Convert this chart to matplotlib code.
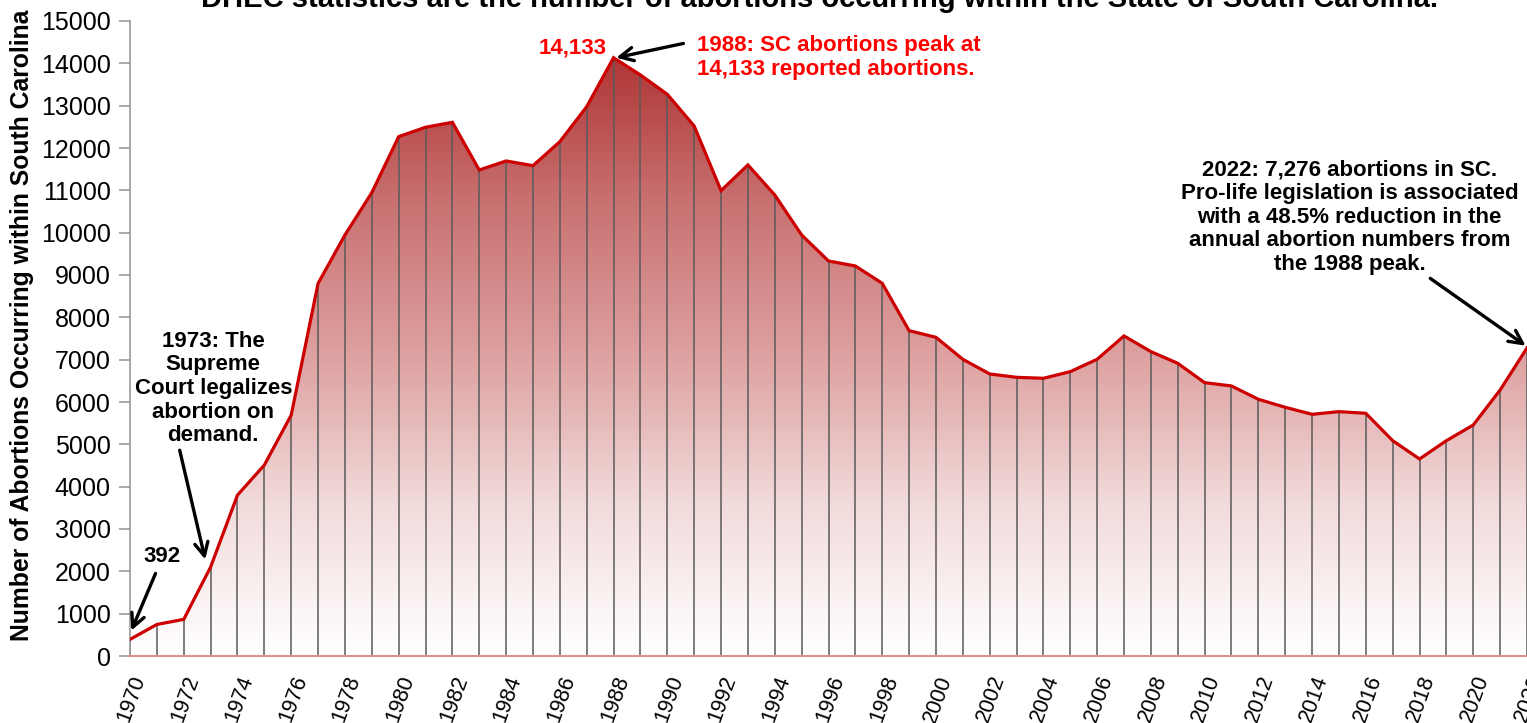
import numpy as np
import matplotlib
matplotlib.use("Agg")
import matplotlib.pyplot as plt
from matplotlib.colors import LinearSegmentedColormap
from matplotlib.patches import Polygon

years = list(range(1970, 2023))
abortions = [392, 745, 865, 2100, 3800, 4510, 5690, 8800, 9945, 10945,
             12268, 12490, 12607, 11480, 11694, 11583, 12150, 12977, 14133, 13725,
             13268, 12520, 10992, 11600, 10890, 9945, 9331, 9213, 8804, 7685,
             7528, 7009, 6662, 6583, 6560, 6717, 7009, 7560, 7190, 6914,
             6457, 6379, 6064, 5875, 5709, 5772, 5733, 5087, 4654, 5087,
             5457, 6284, 7276]
tick_years = list(range(1970, 2023, 2))
y_ticks = list(range(0, 15001, 1000))

plt.rcParams['font.family'] = ['Liberation Sans', 'DejaVu Sans']

fig = plt.figure(figsize=(15.27, 7.23), dpi=100)
ax = fig.add_axes([130/1527, 1-656/723, 1-130/1527, (656-21)/723])

x = np.array(years, dtype=float)
y = np.array(abortions, dtype=float)

cmap = LinearSegmentedColormap.from_list('g', [
    (0.0, (1.0, 1.0, 1.0)),
    (0.25, (0.95, 0.86, 0.86)),
    (0.5, (0.87, 0.63, 0.63)),
    (0.75, (0.79, 0.45, 0.45)),
    (1.0, (0.69, 0.21, 0.21))])
grad = np.linspace(0, 1, 256).reshape(-1, 1)
ymax = y.max()
im = ax.imshow(grad, cmap=cmap, aspect='auto', origin='lower',
               extent=[x[0], x[-1], 0, ymax], zorder=1)
verts = np.column_stack([np.r_[x[0], x, x[-1]], np.r_[0, y, 0]])
poly = Polygon(verts, closed=True, facecolor='none', edgecolor='none')
ax.add_patch(poly)
im.set_clip_path(poly)

ax.vlines(x, 0, y, color='#5a5a5a', lw=1.1, zorder=2)
ax.plot(x, y, color='#cc0000', lw=2.3, zorder=3, solid_joinstyle='miter')

ax.set_xlim(1970, 2022)
ax.set_ylim(0, 15000)
ax.set_yticks(y_ticks)
ax.set_xticks(tick_years)
ax.set_xticklabels([str(t) for t in tick_years], rotation=70, ha='right',
                   va='top', rotation_mode='anchor', fontsize=15.5)
ax.tick_params(axis='x', length=0, pad=12)
ax.tick_params(axis='y', length=8, width=1.2, color='#999999', labelsize=18, pad=6)
for s in ['top', 'right']:
    ax.spines[s].set_visible(False)
ax.spines['left'].set_color('#999999')
ax.spines['left'].set_linewidth(1.2)
ax.spines['bottom'].set_color('#e09090')
ax.spines['bottom'].set_linewidth(1.5)
ax.spines['bottom'].set_zorder(4)

fig.text(22/1527, 1-325/723, 'Number of Abortions Occurring within South Carolina',
         rotation=90, ha='center', va='center', fontsize=17.8, fontweight='bold')

fig.text(820/1527, 1-7/723,
         'DHEC statistics are the number of abortions occurring within the State of South Carolina.',
         ha='center', va='baseline', fontsize=21, fontweight='bold')

arrow_kw = dict(arrowstyle='->', lw=2.4, color='black', mutation_scale=24)

ax.text(1971.2, 2339, '392', ha='center', va='center', fontsize=16, fontweight='bold')
ax.annotate('', xy=(1970.05, 600), xytext=(1970.95, 1950),
            arrowprops=dict(**arrow_kw, shrinkA=0, shrinkB=0))

ax.text(1973.1, 4950, '1973: The\nSupreme\nCourt legalizes\nabortion on\ndemand.',
        ha='center', va='bottom', fontsize=16, fontweight='bold', linespacing=1.17)
ax.annotate('', xy=(1972.8, 2280), xytext=(1971.85, 4860),
            arrowprops=dict(**arrow_kw, shrinkA=0, shrinkB=0))

ax.text(1987.75, 14363, '14,133', ha='right', va='center', color='#ff0000',
        fontsize=16, fontweight='bold')
ax.annotate('', xy=(1988.1, 14133), xytext=(1990.6, 14470),
            arrowprops=dict(**arrow_kw, shrinkA=0, shrinkB=0))
ax.text(1991.1, 14139, '1988: SC abortions peak at\n14,133 reported abortions.',
        ha='left', va='center', color='#ff0000', fontsize=16, fontweight='bold',
        linespacing=1.17)

ax.text(2015.4, 9000,
        '2022: 7,276 abortions in SC.\nPro-life legislation is associated\nwith a 48.5% reduction in the\nannual abortion numbers from\nthe 1988 peak.',
        ha='center', va='bottom', fontsize=16, fontweight='bold', linespacing=1.17)
ax.annotate('', xy=(2021.95, 7330), xytext=(2018.4, 8920),
            arrowprops=dict(**arrow_kw, shrinkA=0, shrinkB=0))

fig.savefig('out.png', dpi=100)
